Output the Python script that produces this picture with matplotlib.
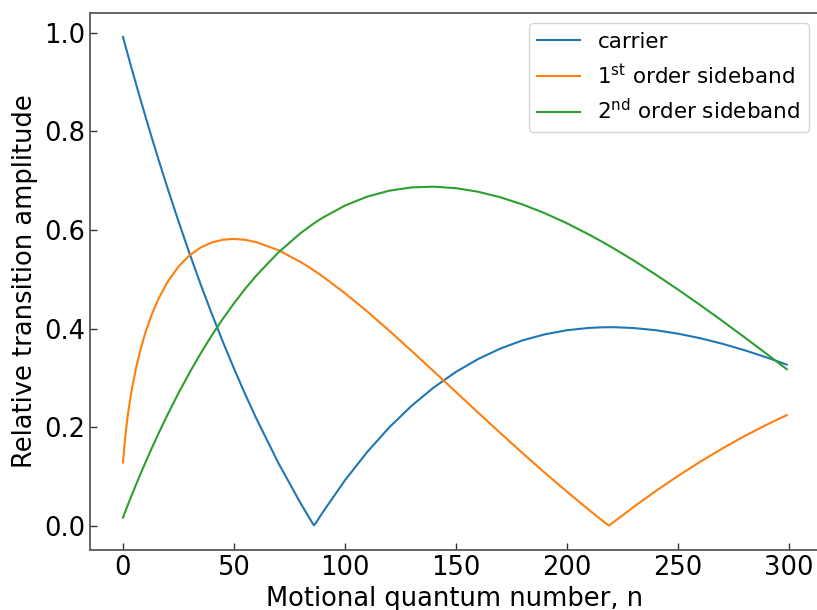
import matplotlib
matplotlib.use("Agg")
import matplotlib.pyplot as plt

# Motional quantum number n at which the amplitudes are tabulated
n_values = [0, 1, 2, 3, 4, 6, 8, 10, 13, 16, 20, 25, 30, 35, 40, 45, 50, 55, 60,
            70, 80, 84, 85, 86, 87, 88, 90, 100, 110, 120, 130, 140, 150, 160,
            170, 180, 190, 200, 210, 216, 217, 218, 219, 220, 221, 222, 230,
            240, 250, 260, 270, 280, 290, 299]

carrier = [0.9917, 0.9751, 0.9587, 0.9424, 0.9263, 0.8944, 0.8631, 0.8323,
           0.7870, 0.7430, 0.6860, 0.6176, 0.5521, 0.4896, 0.4300, 0.3731,
           0.3189, 0.2673, 0.2182, 0.1273, 0.0456, 0.0154, 0.0081, 0.0008,
           0.0064, 0.0134, 0.0274, 0.0923, 0.1496, 0.1998, 0.2433, 0.2806,
           0.3122, 0.3383, 0.3595, 0.3761, 0.3883, 0.3967, 0.4014, 0.4026,
           0.4027, 0.4027, 0.4028, 0.4028, 0.4027, 0.4027, 0.4011, 0.3967,
           0.3897, 0.3805, 0.3692, 0.3561, 0.3414, 0.3269]

first_sideband = [0.1281, 0.1797, 0.2182, 0.2499, 0.2770, 0.3222, 0.3592,
                  0.3904, 0.4291, 0.4606, 0.4942, 0.5258, 0.5486, 0.5645,
                  0.5747, 0.5803, 0.5819, 0.5801, 0.5755, 0.5591, 0.5352,
                  0.5239, 0.5210, 0.5180, 0.5150, 0.5119, 0.5056, 0.4717,
                  0.4347, 0.3955, 0.3547, 0.3132, 0.2713, 0.2294, 0.1880,
                  0.1473, 0.1075, 0.0690, 0.0318, 0.0102, 0.0067, 0.0031,
                  0.0004, 0.0039, 0.0074, 0.0108, 0.0380, 0.0704, 0.1010,
                  0.1298, 0.1568, 0.1819, 0.2051, 0.2244]

second_sideband = [0.0166, 0.0285, 0.0401, 0.0515, 0.0627, 0.0847, 0.1062,
                   0.1271, 0.1577, 0.1871, 0.2247, 0.2691, 0.3107, 0.3497,
                   0.3861, 0.4199, 0.4514, 0.4804, 0.5073, 0.5545, 0.5936,
                   0.6070, 0.6102, 0.6133, 0.6164, 0.6194, 0.6251, 0.6496,
                   0.6677, 0.6798, 0.6864, 0.6879, 0.6849, 0.6776, 0.6664,
                   0.6518, 0.6341, 0.6136, 0.5906, 0.5757, 0.5732, 0.5706,
                   0.5680, 0.5654, 0.5628, 0.5601, 0.5383, 0.5095, 0.4792,
                   0.4478, 0.4154, 0.3822, 0.3484, 0.3176]

series_labels = ["carrier", r"1$^{\rm st}$ order sideband",
                 r"2$^{\rm nd}$ order sideband"]

fig = plt.figure(figsize=(8.17, 6.1), dpi=100)
ax = fig.add_axes([0.1099, 0.0984, 0.8937, 0.8811])

for values, label in zip([carrier, first_sideband, second_sideband], series_labels):
    ax.plot(n_values, values, lw=1.5, label=label)

ax.set_xlabel("Motional quantum number, n", fontsize=18.5)
ax.set_ylabel("Relative transition amplitude", fontsize=18.5)
ax.set_xticks([0, 50, 100, 150, 200, 250, 300])
ax.set_yticks([0.0, 0.2, 0.4, 0.6, 0.8, 1.0])
ax.tick_params(direction="in", labelsize=18.5, length=5, width=1,
               color="0.2")

for name, spine in ax.spines.items():
    spine.set_color("0.35")
    spine.set_linewidth(1.3)
ax.spines["right"].set_visible(False)

ax.legend(loc="upper right", fontsize=15.5)

fig.savefig("out.png", dpi=100)
